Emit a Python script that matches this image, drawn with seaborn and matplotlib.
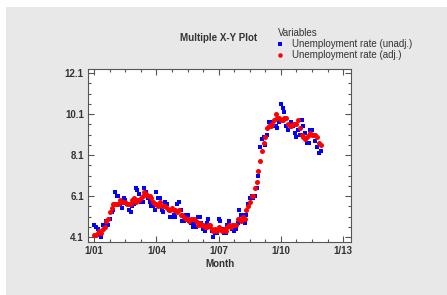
import matplotlib
matplotlib.use("Agg")
import matplotlib.pyplot as plt
from matplotlib.patches import Rectangle
from matplotlib.ticker import AutoMinorLocator, FixedLocator
import numpy as np
import pandas as pd
import seaborn as sns

# monthly values, Jan 2001 .. Dec 2011
unadj = [
    4.7, 4.6, 4.5, 4.2, 4.1, 4.7, 4.7, 4.9, 4.7, 5.0, 5.3, 5.4,
    6.3, 6.1, 6.1, 5.7, 5.5, 6.0, 5.9, 5.7, 5.4, 5.3, 5.6, 5.7,
    6.5, 6.4, 6.2, 5.8, 5.8, 6.5, 6.3, 6.0, 5.8, 5.6, 5.6, 5.4,
    6.3, 6.0, 6.0, 5.4, 5.3, 5.8, 5.7, 5.4, 5.1, 5.1, 5.2, 5.1,
    5.7, 5.8, 5.4, 4.9, 4.9, 5.2, 5.2, 4.9, 4.8, 4.6, 4.8, 4.6,
    5.1, 5.1, 4.8, 4.5, 4.4, 4.8, 5.0, 4.6, 4.4, 4.1, 4.3, 4.3,
    5.0, 4.9, 4.5, 4.3, 4.3, 4.7, 4.9, 4.6, 4.5, 4.4, 4.5, 4.8,
    5.4, 5.2, 5.2, 4.8, 5.2, 5.7, 6.0, 6.1, 6.0, 6.1, 6.5, 7.1,
    8.5, 8.9, 9.0, 8.6, 9.1, 9.7, 9.7, 9.6, 9.5, 9.5, 9.4, 9.7,
    10.6, 10.4, 10.2, 9.5, 9.3, 9.6, 9.7, 9.5, 9.2, 9.0, 9.3, 9.1,
    9.8, 9.5, 9.2, 8.7, 8.7, 9.3, 9.3, 9.1, 8.8, 8.5, 8.2, 8.3,
]
adj = [
    4.2, 4.2, 4.3, 4.4, 4.3, 4.5, 4.6, 4.9, 5.0, 5.3, 5.5, 5.7,
    5.7, 5.7, 5.7, 5.9, 5.8, 5.8, 5.8, 5.7, 5.7, 5.7, 5.9, 6.0,
    5.8, 5.9, 5.9, 6.0, 6.1, 6.3, 6.2, 6.1, 6.1, 6.0, 5.8, 5.7,
    5.7, 5.6, 5.8, 5.6, 5.6, 5.6, 5.5, 5.4, 5.4, 5.5, 5.4, 5.4,
    5.3, 5.4, 5.2, 5.2, 5.1, 5.0, 5.0, 4.9, 5.0, 5.0, 5.0, 4.9,
    4.7, 4.8, 4.7, 4.7, 4.6, 4.6, 4.7, 4.7, 4.5, 4.4, 4.5, 4.4,
    4.6, 4.5, 4.4, 4.5, 4.4, 4.6, 4.7, 4.6, 4.7, 4.7, 4.7, 5.0,
    5.0, 4.9, 5.1, 5.0, 5.4, 5.6, 5.8, 6.1, 6.1, 6.5, 6.8, 7.3,
    7.8, 8.3, 8.7, 9.0, 9.4, 9.5, 9.5, 9.6, 9.8, 10.1, 9.9, 9.9,
    9.8, 9.8, 9.9, 9.9, 9.6, 9.5, 9.5, 9.6, 9.6, 9.6, 9.8, 9.4,
    9.1, 9.0, 8.9, 9.0, 9.1, 9.2, 9.1, 9.1, 9.1, 9.0, 8.7, 8.6,
]
start_year = 2001
tick_years = [2001, 2004, 2007, 2010, 2013]
tick_labels = ["1/01", "1/04", "1/07", "1/10", "1/13"]
y_ticks = [4.1, 6.1, 8.1, 10.1, 12.1]

months = start_year + np.arange(len(adj)) / 12.0
df = pd.DataFrame({"Month": months, "unadj": unadj, "adj": adj})

sns.set_style("white")
plt.rcParams["font.family"] = ["Liberation Sans", "DejaVu Sans"]
txt = "#333333"

fig = plt.figure(figsize=(4.47, 2.95), dpi=100)
fig.patches.append(Rectangle((6 / 447, 0), 1, 1 - 7 / 295, transform=fig.transFigure,
                             facecolor="#e8e8e8", edgecolor="none", zorder=-1))
ax = fig.add_axes([88 / 447, 53 / 295, 263 / 447, 173 / 295])
ax.set_facecolor("white")

sns.scatterplot(data=df, x="Month", y="unadj", ax=ax, color="#0000ff", marker="s",
                s=11, linewidth=0, label="Unemployment rate (unadj.)")
sns.scatterplot(data=df, x="Month", y="adj", ax=ax, color="#ff0000", marker="o",
                s=13, linewidth=0, label="Unemployment rate (adj.)")

ax.set_xlim(2000.70, 2013.38)
ax.set_ylim(3.86, 12.3)
ax.xaxis.set_major_locator(FixedLocator(tick_years))
ax.set_xticklabels(tick_labels)
ax.set_yticks(y_ticks)
ax.set_yticklabels([f"{v:.1f}" for v in y_ticks])
ax.xaxis.set_minor_locator(AutoMinorLocator(4))
ax.yaxis.set_minor_locator(AutoMinorLocator(4))
ax.tick_params(which="both", direction="in", top=True, right=True, bottom=True, left=True,
               colors="#555555", labelcolor=txt, labelsize=7, width=0.8)
ax.tick_params(which="major", length=4, pad=3)
ax.tick_params(which="minor", length=2)
for lab in ax.get_xticklabels() + ax.get_yticklabels():
    lab.set_fontweight("bold")
for sp in ax.spines.values():
    sp.set_color("#555555")
    sp.set_linewidth(0.8)
ax.set_xlabel("Month", fontsize=7, fontweight="bold", color=txt, labelpad=2)
ax.set_ylabel("")

fig.text(219 / 447, 1 - 38 / 295, "Multiple X-Y Plot", ha="center", va="center",
         fontsize=7, fontweight="bold", color=txt)
leg = ax.legend(loc="upper left", bbox_to_anchor=(273 / 447, 1 - 23 / 295),
                bbox_transform=fig.transFigure, frameon=False, title="Variables",
                alignment="left", fontsize=7, title_fontsize=7, handletextpad=1.0,
                labelspacing=0.1, borderpad=0, handlelength=0.5, markerscale=0.9)
for t in leg.get_texts():
    t.set_color(txt)
leg.get_title().set_color(txt)

fig.savefig("out.png", dpi=100)
